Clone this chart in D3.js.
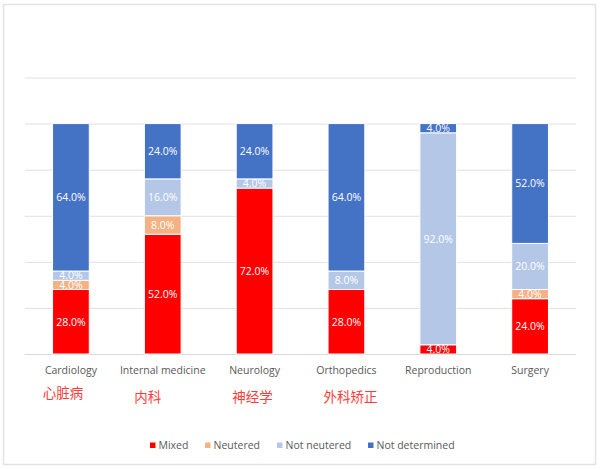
<!DOCTYPE html>
<html>
<head>
<meta charset="utf-8">
<script src="https://cdn.jsdelivr.net/npm/d3@7"></script>
<style>
  html, body { margin: 0; padding: 0; background: #fff; }
  svg { display: block; }
</style>
</head>
<body>
<svg id="chart" width="600" height="470"></svg>
<script>
const categories = ["Cardiology", "Internal medicine", "Neurology", "Orthopedics", "Reproduction", "Surgery"];
const seriesNames = ["Mixed", "Neutered", "Not neutered", "Not determined"];
const mixed         = [28, 52, 72, 28, 4, 24];
const neutered      = [4, 8, 0, 0, 0, 4];
const notNeutered   = [4, 16, 4, 8, 92, 20];
const notDetermined = [64, 24, 24, 64, 4, 52];
const yTicks = [0, 20, 40, 60, 80, 100, 120];
const chineseLabels = [
  { category: "Cardiology", text: "心脏病" },
  { category: "Internal medicine", text: "内科" },
  { category: "Neurology", text: "神经学" },
  { category: "Orthopedics", text: "外科矫正" }
];
const colors = ["#FF0000", "#F4B183", "#B4C7E7", "#4472C4"];

(function () {
const seriesValues = [mixed, neutered, notNeutered, notDetermined];
const table = categories.map((c, i) => {
  const row = { category: c };
  seriesNames.forEach((s, j) => row[s] = seriesValues[j][i]);
  return row;
});

const svg = d3.select("#chart");
const font = "'Open Sans', 'Noto Sans', sans-serif";

// outer frame
svg.append("rect")
  .attr("x", 3.5).attr("y", 4.5).attr("width", 592).attr("height", 460)
  .attr("fill", "#fff").attr("stroke", "#e3e3e3").attr("stroke-width", 1.5);

const plotLeft = 25, plotRight = 576, plotTop = 77.5, plotBottom = 354;
const x = d3.scaleBand().domain(categories).range([plotLeft, plotRight]).paddingInner(0.6).paddingOuter(0.3);
const y = d3.scaleLinear().domain([0, 120]).range([plotBottom, plotTop]);

// gridlines
const yAxis = d3.axisLeft(y).tickValues(yTicks).tickSize(-(plotRight - plotLeft)).tickFormat("");
const gy = svg.append("g").attr("transform", `translate(${plotLeft},0)`).call(yAxis);
gy.select(".domain").remove();
gy.selectAll(".tick line").attr("stroke", "#e0e0e0").attr("stroke-width", 1)
  .filter(d => d === 0).attr("stroke", "#d9d9d9");

const stack = d3.stack().keys(seriesNames)(table);

const layers = svg.append("g").selectAll("g").data(stack).join("g")
  .attr("fill", (d, i) => colors[i]);

layers.selectAll("rect").data(d => d.filter(p => p[1] - p[0] > 0)).join("rect")
  .attr("x", d => x(d.data.category))
  .attr("width", x.bandwidth())
  .attr("y", d => y(d[1]))
  .attr("height", d => y(d[0]) - y(d[1]))
  .attr("stroke", "#fff").attr("stroke-width", 1);

layers.selectAll("text").data(d => d.filter(p => p[1] - p[0] > 0)).join("text")
  .attr("x", d => x(d.data.category) + x.bandwidth() / 2)
  .attr("y", d => (y(d[0]) + y(d[1])) / 2)
  .attr("dy", "0.36em")
  .attr("text-anchor", "middle")
  .attr("fill", "#fff")
  .attr("font-family", font)
  .attr("font-size", 10.5)
  .text(d => (d[1] - d[0]).toFixed(1) + "%");

// x axis labels
const xAxis = d3.axisBottom(x).tickSize(0).tickPadding(13);
const gx = svg.append("g").attr("transform", `translate(0,${plotBottom})`).call(xAxis);
gx.select(".domain").remove();
gx.selectAll("text").attr("font-family", font).attr("font-size", 10.5).attr("fill", "#595959");

// chinese labels (hand-placed annotations, offset from their category centre)
const zhDx = [-8, -15, -2, 4];
const zhY = [398, 402, 402, 402];
svg.append("g").selectAll("text").data(chineseLabels).join("text")
  .attr("x", (d, i) => x(d.category) + x.bandwidth() / 2 + zhDx[i])
  .attr("y", (d, i) => zhY[i])
  .attr("text-anchor", "middle")
  .attr("fill", "#FF3B3B")
  .attr("font-family", "'Noto Sans CJK SC', sans-serif")
  .attr("font-size", 13.5)
  .text(d => d.text);

// legend
const legendX = [150, 205, 277, 368];
const lg = svg.append("g").selectAll("g").data(seriesNames).join("g")
  .attr("transform", (d, i) => `translate(${legendX[i]},445)`);
lg.append("rect").attr("x", 0).attr("y", -2.5).attr("width", 5.5).attr("height", 5.5)
  .attr("fill", (d, i) => colors[i]);
lg.append("text").attr("x", 8.5).attr("y", 0).attr("dy", "0.36em")
  .attr("font-family", font).attr("font-size", 10.5).attr("fill", "#595959")
  .text(d => d);
})();
</script>
</body>
</html>
